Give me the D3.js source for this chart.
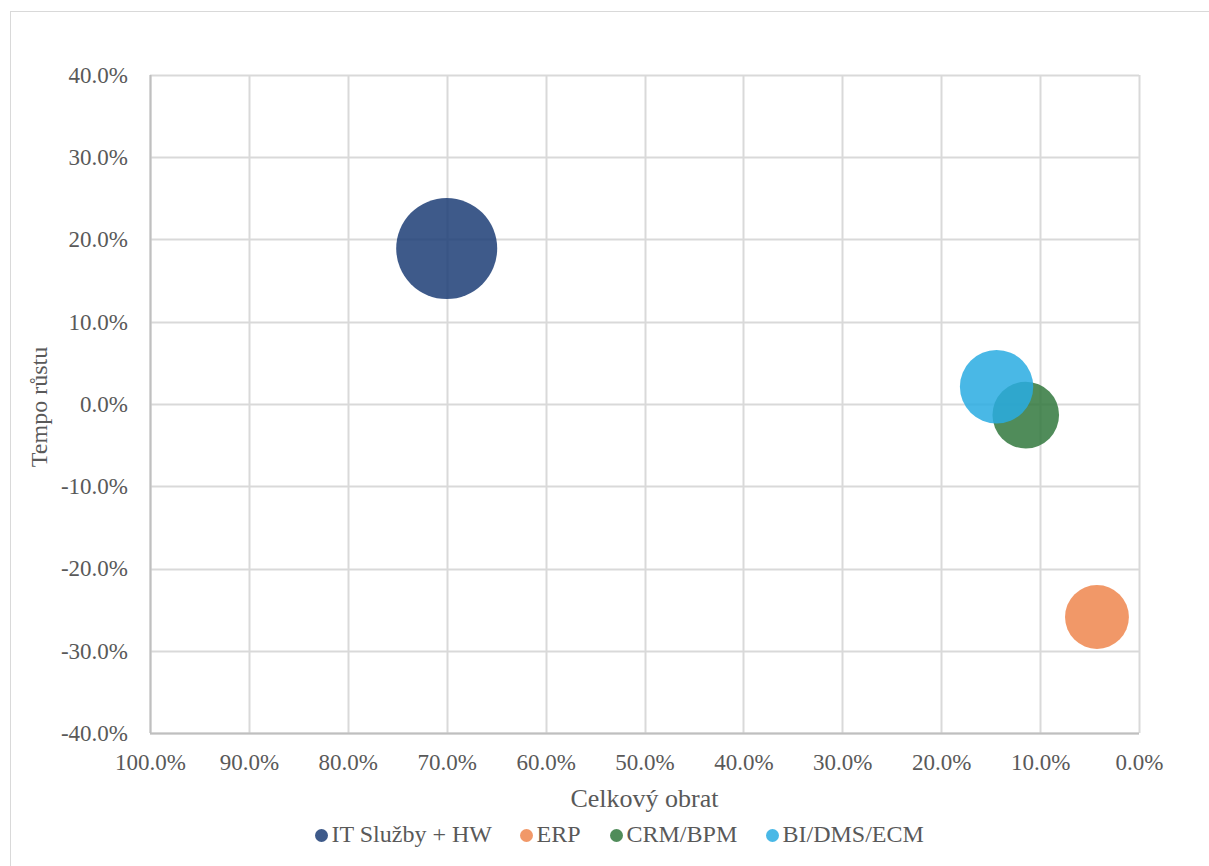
<!DOCTYPE html>
<html>
<head>
<meta charset="utf-8">
<script src="https://cdn.jsdelivr.net/npm/d3@7"></script>
<style>
  html, body { margin: 0; padding: 0; background: #fff; }
  svg { display: block; }
  svg text { font-family: "Liberation Serif", "Times New Roman", serif; fill: #595959; }
</style>
</head>
<body>
<svg id="chart" width="1209" height="866"></svg>
<script>
// Segment data: share of total turnover (x), growth rate (y), bubble size
const segments = ["IT Služby + HW", "ERP", "CRM/BPM", "BI/DMS/ECM"];
const turnover = [0.700, 0.0425, 0.1145, 0.1440];
const growth   = [0.189, -0.259, -0.0135, 0.021];
const bubbleSize = [100, 40, 43.5, 52.8];
const colors = ["#1c3d76", "#ee864e", "#31783d", "#29abe2"];

const xTicks = [1.0, 0.9, 0.8, 0.7, 0.6, 0.5, 0.4, 0.3, 0.2, 0.1, 0.0];
const yTicks = [0.4, 0.3, 0.2, 0.1, 0.0, -0.1, -0.2, -0.3, -0.4];
const xTitle = "Celkový obrat";
const yTitle = "Tempo růstu";

const SERIF = "'Liberation Serif', 'Times New Roman', serif";
const svg = d3.select("#chart");
const plot = { left: 150, right: 1139, top: 75, bottom: 733 };

// Outer chart frame
svg.append("rect")
  .attr("x", 10.5).attr("y", 11.5)
  .attr("width", 1220).attr("height", 880)
  .attr("fill", "none").attr("stroke", "#d9d9d9").attr("stroke-width", 1);

// Reversed x axis: 100% on the left, 0% on the right
const x = d3.scaleLinear().domain([1.0, 0.0]).range([plot.left, plot.right]);
const y = d3.scaleLinear().domain([-0.4, 0.4]).range([plot.bottom, plot.top]);
const r = d3.scaleSqrt().domain([0, d3.max(bubbleSize)]).range([0, 50.5]);
// Percent with one decimal and a plain hyphen for negatives
const pct = d => (d * 100).toFixed(1).replace("-0.0", "0.0") + "%";

// Gridlines
const grid = svg.append("g");
grid.selectAll("line.v").data(xTicks).join("line")
  .attr("class", "v")
  .attr("x1", d => Math.round(x(d)) + 0.5).attr("x2", d => Math.round(x(d)) + 0.5)
  .attr("y1", plot.top).attr("y2", plot.bottom)
  .attr("stroke", "#d9d9d9").attr("stroke-width", 2);
grid.selectAll("line.h").data(yTicks).join("line")
  .attr("class", "h")
  .attr("x1", plot.left).attr("x2", plot.right)
  .attr("y1", d => Math.round(y(d)) + 0.5).attr("y2", d => Math.round(y(d)) + 0.5)
  .attr("stroke", "#d9d9d9").attr("stroke-width", 2);

// Axis lines
svg.append("line")
  .attr("x1", plot.left).attr("x2", plot.right)
  .attr("y1", plot.bottom + 0.5).attr("y2", plot.bottom + 0.5)
  .attr("stroke", "#bfbfbf").attr("stroke-width", 2);
svg.append("line")
  .attr("x1", plot.left + 0.5).attr("x2", plot.left + 0.5)
  .attr("y1", plot.top).attr("y2", plot.bottom)
  .attr("stroke", "#bfbfbf").attr("stroke-width", 2);

// Tick labels via d3 axes
const xAxis = svg.append("g")
  .attr("transform", `translate(0,${plot.bottom})`)
  .call(d3.axisBottom(x).tickValues(xTicks).tickFormat(pct).tickSize(0).tickPadding(38));
const yAxis = svg.append("g")
  .attr("transform", `translate(${plot.left},0)`)
  .call(d3.axisLeft(y).tickValues(yTicks).tickFormat(pct).tickSize(0).tickPadding(22));
[xAxis, yAxis].forEach(a => {
  a.attr("font-family", SERIF).attr("font-size", 23);
  a.select(".domain").remove();
  a.selectAll("text")
    .style("font-family", SERIF)
    .style("font-size", "23px")
    .style("fill", "#595959");
});
xAxis.selectAll("text").attr("dy", "-0.05em");
yAxis.selectAll("text").attr("dy", "0.32em");

// Bubbles
svg.append("g").selectAll("circle")
  .data(segments.map((name, i) => ({ name, x: turnover[i], y: growth[i], s: bubbleSize[i], c: colors[i] })))
  .join("circle")
  .attr("cx", d => x(d.x))
  .attr("cy", d => y(d.y))
  .attr("r", d => r(d.s))
  .attr("fill", d => d.c)
  .attr("fill-opacity", 0.85);

// Axis titles
svg.append("text")
  .attr("x", (plot.left + plot.right) / 2).attr("y", 807)
  .attr("text-anchor", "middle")
  .style("font-family", SERIF).style("font-size", "26px")
  .text(xTitle);
svg.append("text")
  .attr("transform", "translate(47,407) rotate(-90)")
  .attr("text-anchor", "middle")
  .style("font-family", SERIF).style("font-size", "24px")
  .text(yTitle);

// Legend
const legendX = [321.5, 526.5, 616.5, 772.5];
const legend = svg.append("g");
segments.forEach((name, i) => {
  legend.append("circle")
    .attr("cx", legendX[i]).attr("cy", 835.5).attr("r", 6.5)
    .attr("fill", colors[i]).attr("fill-opacity", 0.85);
  legend.append("text")
    .attr("x", legendX[i] + 10).attr("y", 842)
    .style("font-family", SERIF).style("font-size", "24px")
    .text(name);
});
</script>
</body>
</html>
